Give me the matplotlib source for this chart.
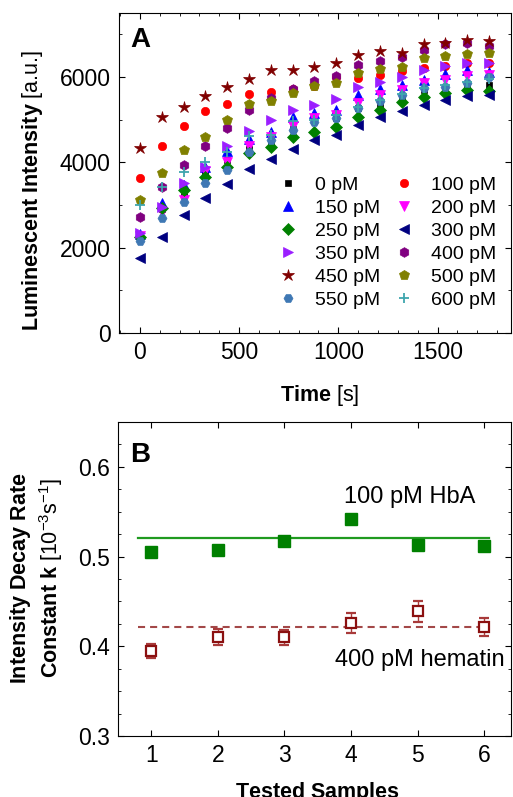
import matplotlib
matplotlib.use("Agg")
import matplotlib.pyplot as plt
from matplotlib.ticker import MultipleLocator

plt.rcParams['font.family'] = ['Liberation Sans', 'DejaVu Sans']
plt.rcParams['mathtext.fontset'] = 'custom'
plt.rcParams['mathtext.rm'] = 'Liberation Sans'
plt.rcParams['mathtext.bf'] = 'Liberation Sans:bold'
plt.rcParams['mathtext.it'] = 'Liberation Sans:italic'

# ---- panel A data ----
time_s = [0, 110, 220, 330, 440, 550, 660, 770, 880, 990, 1100, 1210, 1320, 1430, 1540, 1650, 1760]

conc_labels = ['0 pM', '100 pM', '150 pM', '200 pM', '250 pM', '300 pM',
               '350 pM', '400 pM', '450 pM', '500 pM', '550 pM', '600 pM']

i_0 = [2300, 2900, 3200, 3740, 4060, 4300, 4500, 4780, 4960, 5040, 5270, 5340, 5500, 5700, 5760, 5830, 5810]
i_100 = [3630, 4370, 4860, 5210, 5370, 5600, 5640, 5710, 5790, 5990, 5970, 6050, 6130, 6200, 6260, 6330, 6320]
i_150 = [2330, 3040, 3470, 3880, 4260, 4540, 4700, 5060, 5150, 5230, 5580, 5710, 5810, 5930, 6070, 6150, 6120]
i_200 = [2270, 2840, 3120, 3800, 4010, 4370, 4590, 4850, 5030, 5110, 5380, 5580, 5700, 5850, 5930, 6020, 6050]
i_250 = [2250, 2920, 3350, 3650, 3900, 4210, 4350, 4590, 4720, 4820, 5070, 5230, 5400, 5520, 5630, 5700, 5680]
i_300 = [1750, 2260, 2760, 3160, 3480, 3840, 4070, 4310, 4520, 4640, 4880, 5050, 5190, 5340, 5450, 5560, 5580]
i_350 = [2350, 2960, 3520, 3900, 4370, 4740, 4980, 5230, 5340, 5480, 5760, 5890, 5990, 6150, 6260, 6330, 6320]
i_400 = [2720, 3430, 3930, 4370, 4800, 5230, 5500, 5710, 5910, 6020, 6280, 6380, 6460, 6630, 6780, 6800, 6720]
i_450 = [4330, 5060, 5300, 5540, 5760, 5950, 6160, 6160, 6230, 6330, 6500, 6600, 6560, 6770, 6790, 6860, 6840]
i_500 = [3120, 3750, 4280, 4600, 4990, 5370, 5430, 5620, 5780, 5850, 6090, 6180, 6240, 6440, 6490, 6540, 6560]
i_550 = [2150, 2690, 3060, 3510, 3820, 4250, 4510, 4760, 4950, 5030, 5270, 5440, 5580, 5740, 5770, 5850, 5990]
i_600 = [2990, 3410, 3780, 4010, 4250, 4620, 4650, 4960, 5000, 5100, 5300, 5450, 5600, 5750, 5800, 5880, 5950]

intensities = [i_0, i_100, i_150, i_200, i_250, i_300, i_350, i_400, i_450, i_500, i_550, i_600]

# ---- panel B data ----
samples = [1, 2, 3, 4, 5, 6]
k_hba = [0.505, 0.507, 0.517, 0.542, 0.513, 0.512]
k_hba_err = [0.004, 0.003, 0.003, 0.003, 0.003, 0.003]
k_hba_mean = 0.521
k_hem = [0.395, 0.410, 0.410, 0.426, 0.439, 0.421]
k_hem_err = [0.008, 0.009, 0.008, 0.011, 0.012, 0.010]
k_hem_mean = 0.421

markers = ['s', 'o', '^', 'v', 'D', '<', '>', 'h', '*', 'p', 'H', '+']
colors = ['#000000', '#ff0000', '#0000ff', '#ff00ff', '#008000', '#000080',
          '#9b1eff', '#800080', '#800000', '#808000', '#3f78b4', '#3fa6ae']
sizes = [5, 6, 7, 7, 6, 7, 7, 7, 9, 7.5, 6.5, 7]

fig = plt.figure(figsize=(5.13, 7.97), dpi=100)

tick_kw = dict(direction='in', top=True, right=True, labelsize=16.5, pad=6)

# ---------- A ----------
ax1 = fig.add_axes([0.232, 0.582, 0.764, 0.402])
handles = []
for y, lab, m, c, s in zip(intensities, conc_labels, markers, colors, sizes):
    h, = ax1.plot(time_s, y, linestyle='none', marker=m, color=c, markersize=s,
                  markeredgewidth=1.3 if m == '+' else 0.5, label=lab)
    handles.append(h)
ax1.set_xlim(-105, 1870)
ax1.set_ylim(0, 7500)
ax1.xaxis.set_major_locator(MultipleLocator(500))
ax1.xaxis.set_minor_locator(MultipleLocator(100))
ax1.yaxis.set_major_locator(MultipleLocator(2000))
ax1.yaxis.set_minor_locator(MultipleLocator(1000))
ax1.tick_params(which='both', **tick_kw)
ax1.tick_params(which='major', length=4)
ax1.tick_params(which='minor', length=2.2)
ax1.set_xlabel(r'$\mathbf{Time}$ [s]', fontsize=15.5)
ax1.set_ylabel(r'$\mathbf{Luminescent\ Intensity}$ [a.u.]', fontsize=15.5)
ax1.xaxis.set_label_coords(0.511, -0.155)
ax1.yaxis.set_label_coords(-0.19, 0.447)
ax1.text(0.03, 0.955, 'A', transform=ax1.transAxes, fontsize=20,
         fontweight='bold', va='top', ha='left')
# legend fills row by row in the reference: reorder for column-wise filling
order = list(range(0, 12, 2)) + list(range(1, 12, 2))
ax1.legend([handles[i] for i in order], [conc_labels[i] for i in order],
           ncol=2, loc='center', bbox_to_anchor=(0.685, 0.283), frameon=False,
           fontsize=14, handlelength=1.0, handletextpad=0.9, columnspacing=0.7,
           labelspacing=0.28, borderpad=0.2)

# ---------- B ----------
ax2 = fig.add_axes([0.230, 0.0765, 0.766, 0.394])
ax2.plot([0.8, 6.07], [k_hba_mean, k_hba_mean], color='#1f9a1f', lw=1.6)
ax2.plot([0.8, 6.07], [k_hem_mean, k_hem_mean], color='#a34848', lw=1.5,
         dashes=(3.4, 2.4))
ax2.errorbar(samples, k_hba, yerr=k_hba_err, fmt='s', color='#008000',
             markersize=8.5, capsize=3.5, elinewidth=1, capthick=1)
ax2.errorbar(samples, k_hem, yerr=k_hem_err, fmt='s', color='#8b1010',
             ecolor='#a83a3a', markerfacecolor='white', markeredgewidth=1.6,
             markersize=7.5, capsize=3.5, elinewidth=1, capthick=1)
ax2.text(3.9, 0.56, '100 pM HbA', fontsize=17, va='baseline')
ax2.text(3.76, 0.378, '400 pM hematin', fontsize=17, va='baseline')
ax2.set_xlim(0.5, 6.4)
ax2.set_ylim(0.3, 0.65)
ax2.xaxis.set_major_locator(MultipleLocator(1))
ax2.yaxis.set_major_locator(MultipleLocator(0.1))
ax2.yaxis.set_minor_locator(MultipleLocator(0.025))
ax2.tick_params(which='both', **tick_kw)
ax2.tick_params(which='major', length=4)
ax2.tick_params(which='minor', length=2.2)
ax2.set_xlabel(r'$\mathbf{Tested\ Samples}$', fontsize=15.5)
ax2.set_ylabel(r'$\mathbf{Intensity\ Decay\ Rate}$' + '\n' +
               r'$\mathbf{Constant\ k}$ [10$^{-3}$s$^{-1}$]', fontsize=15.5)
ax2.xaxis.set_label_coords(0.508, -0.14)
ax2.yaxis.set_label_coords(-0.135, 0.503)
ax2.text(0.03, 0.935, 'B', transform=ax2.transAxes, fontsize=20,
         fontweight='bold', va='top', ha='left')

fig.savefig('out.png', dpi=100)
